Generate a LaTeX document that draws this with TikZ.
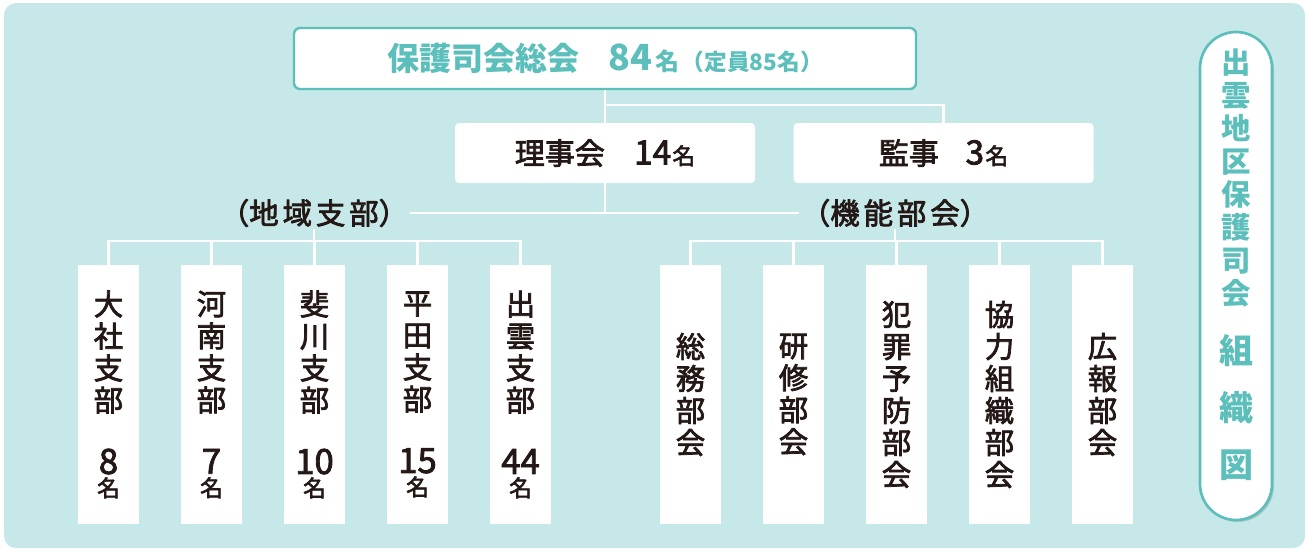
\documentclass[tikz,border=0pt]{standalone}
\usepackage{fontspec}
\usetikzlibrary{shadows}
\newfontfamily\cjk{Noto Sans CJK JP}
\newfontfamily\cjkm[FakeBold=2.5]{Noto Sans CJK JP}
\definecolor{bgc}{HTML}{C6E8E8}
\definecolor{tealc}{HTML}{5CBFBB}
\definecolor{inkc}{HTML}{231815}
\newcommand\brtext[5]{#1\\#2\\#3\\#4\\[23pt]{\fontsize{26}{24}\selectfont #5}\\[-7pt]{\fontsize{17}{17}\selectfont 名}}
\tikzset{
  conn/.style={draw=white, line width=1.6pt},
  topbox/.style={draw=tealc, line width=1.8pt, fill=white, rounded corners=4.5pt, minimum width=466.5pt, minimum height=45.75pt, text=tealc, font=\cjk\bfseries\fontsize{24}{26}\selectfont},
  midbox/.style={fill=white, rounded corners=3pt, minimum width=225pt, minimum height=45pt, text=inkc, font=\cjkm\fontsize{22.5}{24}\selectfont},
  branch/.style={fill=white, minimum width=45.75pt, minimum height=194.25pt, text=inkc, align=center, inner sep=0pt, font=\cjkm\fontsize{22}{24}\selectfont},
  grp/.style={text=inkc, inner sep=1pt, font=\cjkm\fontsize{22}{24}\selectfont},
  pill/.style={draw=tealc, line width=2pt, fill=white, rounded corners=27pt, minimum width=54pt, minimum height=366pt, drop shadow={shadow xshift=1.5pt, shadow yshift=-1.5pt, opacity=0.25, fill=black!60}},
}
\begin{document}
\begin{tikzpicture}[x=0.75pt,y=-0.75pt]
\useasboundingbox (0,0) rectangle (1309,551);
\fill[bgc, rounded corners=9pt] (4,3) rectangle (1305,548);

% top levels
\node[topbox] (top) at (605,58.5) {保護司会総会\hspace{22pt}{\fontsize{27}{26}\selectfont 84}\hspace{2pt}{\fontsize{18}{18}\selectfont 名}\hspace{2pt}{\fontsize{17}{16}\selectfont （定員85名）}};
\node[midbox] (riji) at (605,153) {理事会\hspace{22pt}{\fontsize{25}{24}\selectfont 14}\hspace{1pt}{\fontsize{17}{17}\selectfont 名}};
\node[midbox] (kansa) at (943.5,153) {監事\hspace{20pt}{\fontsize{25}{24}\selectfont 3}\hspace{1pt}{\fontsize{17}{17}\selectfont 名}};

% group labels
\node[grp] (labL) at (314,213) {（地\hspace{3pt}域\hspace{3pt}支\hspace{3pt}部）};
\node[grp] (labR) at (895,213) {（機\hspace{3pt}能\hspace{3pt}部\hspace{3pt}会）};

% branches
\node[branch] (b1) at (108.5,394.5) {\brtext{大}{社}{支}{部}{8}};
\node[branch] (b2) at (211.5,394.5) {\brtext{河}{南}{支}{部}{7}};
\node[branch] (b3) at (314.5,394.5) {\brtext{斐}{川}{支}{部}{10}};
\node[branch] (b4) at (417.5,394.5) {\brtext{平}{田}{支}{部}{15}};
\node[branch] (b5) at (520.5,394.5) {\brtext{出}{雲}{支}{部}{44}};

\node[branch] (c1) at (690.5,394.5) {総\\務\\部\\会};
\node[branch] (c2) at (793.5,394.5) {研\\修\\部\\会};
\node[branch] (c3) at (896.5,394.5) {犯\\罪\\予\\防\\部\\会};
\node[branch] (c4) at (999.5,394.5) {協\\力\\組\\織\\部\\会};
\node[branch] (c5) at (1102.5,394.5) {広\\報\\部\\会};

% side pill
\node[pill] (pill) at (1236,276) {};
\node[anchor=north, align=center, inner sep=0pt, text=tealc, font=\cjk\bfseries\fontsize{22}{24.75}\selectfont] (ptxt) at (1236,49)
 {出\\雲\\地\\区\\保\\護\\司\\会\\[19pt]{\fontsize{25.5}{26}\selectfont 組}\\[18pt]{\fontsize{25.5}{26}\selectfont 織}\\[18pt]{\fontsize{25.5}{26}\selectfont 図}};

% connectors
\coordinate (j1) at (605,105);
\coordinate (hl) at (0,241);
\draw[conn] (top.south) -- (riji.north);
\draw[conn] (j1) -| (kansa.north);
\draw[conn] (riji.south) -- (riji.south |- labL);
\draw[conn] (labL.east) -- (labR.west);
\draw[conn] (labL.south) -- (labL.south |- hl);
\draw[conn] (labR.south) -- (labR.south |- hl);
\draw[conn] (b1.north) -- (b1.north |- hl) -- (b5.north |- hl) -- (b5.north);
\foreach \n in {b2,b3,b4} \draw[conn] (\n.north) -- (\n.north |- hl);
\draw[conn] (c1.north) -- (c1.north |- hl) -- (c5.north |- hl) -- (c5.north);
\foreach \n in {c2,c3,c4} \draw[conn] (\n.north) -- (\n.north |- hl);
\end{tikzpicture}
\end{document}
